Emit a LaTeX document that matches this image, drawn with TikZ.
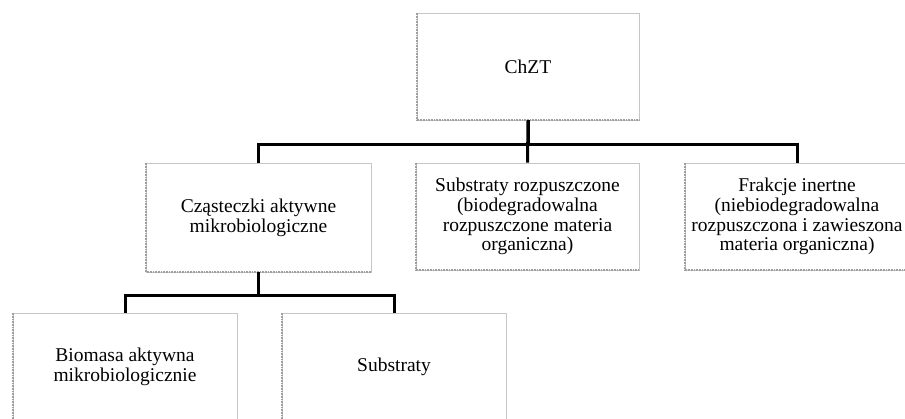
\documentclass[tikz,border=0pt]{standalone}
\usepackage{fontspec}
\setmainfont{Liberation Serif}
\begin{document}
\begin{tikzpicture}[x=1pt,y=-1pt,
  box/.style={draw=gray!45, line width=0.6pt, fill=white, align=center,
    inner sep=0pt, font=\fontsize{19.5}{19.7}\selectfont},
  link/.style={draw=black, line width=3pt},
  edge/.style={draw=gray!75, line width=1.6pt, dash pattern=on 0.8pt off 0.8pt}]
\useasboundingbox (0,0) rectangle (905,419);
\node[box, minimum width=222pt, minimum height=107pt] (chzt) at (528,66.5) {ChZT};
\node[box, minimum width=225pt, minimum height=109pt] (czast) at (258.5,217.5) {Cząsteczki aktywne\\mikrobiologiczne};
\node[box, minimum width=223pt, minimum height=107pt] (subr) at (527.5,216.5) {Substraty rozpuszczone\\(biodegradowalna\\rozpuszczone materia\\organiczna)};
\node[box, minimum width=224pt, minimum height=107pt] (frak) at (797,216.5) {Frakcje inertne\\(niebiodegradowalna\\rozpuszczona i zawieszona\\materia organiczna)};
\node[box, minimum width=224pt, minimum height=107pt] (bio) at (125,366.5) {Biomasa aktywna\\mikrobiologicznie};
\node[box, minimum width=224pt, minimum height=107pt] (subs) at (394,366.5) {Substraty};
\foreach \n in {chzt,czast,subr,frak,bio,subs}{
  \draw[edge] (\n.north west) -- (\n.south west) -- (\n.south east);
}
\draw[link] (chzt.south) -- ++(0,24) -| (czast.north);
\draw[link] (chzt.south) -- ++(0,24) -| (frak.north);
\draw[link] (chzt.south) -- (subr.north);
\draw[link] (czast.south) -- ++(0,23) -| (bio.north);
\draw[link] (czast.south) -- ++(0,23) -| (subs.north);
\end{tikzpicture}
\end{document}
